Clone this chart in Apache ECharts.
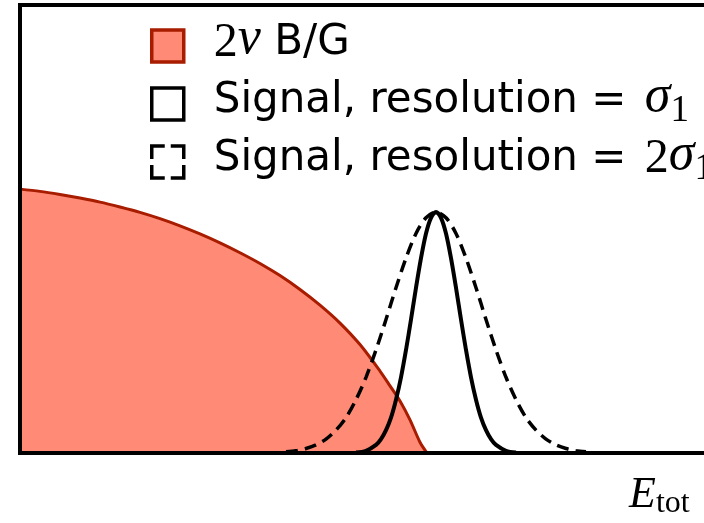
<!DOCTYPE html>
<html>
<head>
<meta charset="utf-8">
<script src="https://cdn.jsdelivr.net/npm/echarts@6/dist/echarts.min.js"></script>
<style>html,body{margin:0;padding:0;background:#fff}#c{width:704px;height:523px}</style>
</head>
<body>
<div id="c"></div>
<script>
// 2nu double-beta background spectrum (relative units)
const bgX = [0, 2, 4, 6, 8, 10, 12, 14, 16, 18, 20, 22, 24, 26, 28, 30, 32, 34, 36, 37, 38, 39, 40, 40.7];
const bgY = [58.9, 58.4, 57.7, 56.9, 56.0, 54.9, 53.7, 52.3, 50.7, 48.9, 46.9, 44.7, 42.3, 39.6, 36.5, 33.0, 29.0, 24.2, 18.3, 15.0, 11.6, 7.4, 2.4, 0];
// Signal peak, resolution sigma1
const sigX = [33.6, 34.6, 35.6, 36.1, 36.6, 37.1, 37.6, 38.1, 38.6, 39.1, 39.6, 40.1, 40.6, 41.1, 41.6, 42.1, 42.6, 43.1, 43.6, 44.1, 44.6, 45.1, 45.6, 46.1, 46.6, 47.1, 47.6, 48.6, 49.6];
const sigY = [0.1, 0.5, 1.8, 3.1, 5.1, 7.9, 11.9, 16.9, 23.0, 29.8, 36.9, 43.5, 49.0, 52.5, 53.8, 52.5, 49.0, 43.5, 36.9, 29.8, 23.0, 16.9, 11.9, 7.9, 5.1, 3.1, 1.8, 0.5, 0.1];
// Signal peak, resolution 2*sigma1
const wideX = [26.6, 27.6, 28.6, 29.6, 30.6, 31.6, 32.6, 33.6, 34.6, 35.6, 36.6, 37.6, 38.6, 39.6, 40.6, 41.6, 42.6, 43.6, 44.6, 45.6, 46.6, 47.6, 48.6, 49.6, 50.6, 51.6, 52.6, 53.6, 54.6, 55.6, 56.6];
const wideY = [0.3, 0.5, 1.0, 1.8, 3.1, 5.1, 7.9, 11.9, 16.9, 23.0, 29.8, 36.9, 43.5, 49.0, 52.5, 53.8, 52.5, 49.0, 43.5, 36.9, 29.8, 23.0, 16.9, 11.9, 7.9, 5.1, 3.1, 1.8, 1.0, 0.5, 0.3];

const seriesNames = ['bg', 'sig1', 'sig2'];
const legendLabels = {
  bg: '{n|2}{gi|ν}{t| B/G}{sub| }',
  sig1: '{t|Signal, resolution = }{gi|σ}{sub|1}',
  sig2: '{t|Signal, resolution = }{n|2}{gi|σ}{sub|1}'
};
const xName = '{E|E}{s|tot}';

const zip = (xs, ys) => xs.map((x, i) => [x, ys[i]]);

const chart = echarts.init(document.getElementById('c'), null, {renderer: 'canvas'});
const serif = 'Liberation Serif';
const sans = 'DejaVu Sans';
chart.setOption({
  animation: false,
  backgroundColor: '#fff',
  grid: {left: 20, top: 5, bottom: 70, width: 724, outerBoundsMode: 'none', containLabel: false,
         show: true, borderWidth: 4, borderColor: '#000', backgroundColor: '#fff'},
  xAxis: {
    type: 'value', min: 0, max: 72.4, z: 10,
    axisLine: {show: true, lineStyle: {color: '#000', width: 4}},
    axisTick: {show: false}, axisLabel: {show: false}, splitLine: {show: false},
    name: xName, nameLocation: 'end', nameGap: -115,
    nameTextStyle: {
      align: 'left', verticalAlign: 'top', padding: [20, 0, 0, 0], color: '#000',
      rich: {
        E: {fontFamily: serif, fontStyle: 'italic', fontSize: 44, lineHeight: 44, color: '#000'},
        s: {fontFamily: serif, fontSize: 32, lineHeight: 22, padding: [18, 0, 0, 0], color: '#000'}
      }
    }
  },
  yAxis: {
    type: 'value', min: 0, max: 100, z: 10,
    axisLine: {show: true, lineStyle: {color: '#000', width: 4}},
    axisTick: {show: false}, axisLabel: {show: false}, splitLine: {show: false}
  },
  legend: {
    orient: 'vertical', left: 150, top: 13, padding: 0,
    itemWidth: 32, itemHeight: 32, itemGap: -2,
    selectedMode: false,
    data: [
      {name: 'bg', icon: 'rect', itemStyle: {color: '#FF8A75', borderColor: '#A81C00', borderWidth: 3.5}},
      {name: 'sig1', icon: 'rect', itemStyle: {color: '#fff', borderColor: '#000', borderWidth: 3.5}},
      {name: 'sig2', icon: 'rect', itemStyle: {color: '#fff', borderColor: '#000', borderWidth: 3.5, borderType: [26, 6], borderDashOffset: 13}}
    ],
    formatter: name => legendLabels[name],
    textStyle: {
      color: '#000', padding: [0, 0, 6, 25],
      rich: {
        t: {fontFamily: sans, fontSize: 42, lineHeight: 40, padding: [0, 5, 0, 0], color: '#000'},
        n: {fontFamily: serif, fontSize: 48, lineHeight: 40, color: '#000'},
        gi: {fontFamily: serif, fontStyle: 'italic', fontSize: 52, lineHeight: 40, padding: [0, 0, 8, 0], color: '#000'},
        sub: {fontFamily: serif, fontSize: 37, lineHeight: 20, padding: [20, 0, 0, 0], color: '#000'}
      }
    }
  },
  series: [
    {
      name: seriesNames[0], type: 'line', data: zip(bgX, bgY), smooth: 0.3, symbol: 'none',
      lineStyle: {color: '#A81C00', width: 3}, itemStyle: {color: '#FF8A75'},
      areaStyle: {color: '#FF8A75', opacity: 1}, z: 2
    },
    {
      name: seriesNames[1], type: 'line', data: zip(sigX, sigY), smooth: 0.3, symbol: 'none',
      lineStyle: {color: '#000', width: 4}, itemStyle: {color: '#000'}, z: 4
    },
    {
      name: seriesNames[2], type: 'line', data: zip(wideX, wideY), smooth: 0.3, symbol: 'none',
      lineStyle: {color: '#000', width: 3.5, type: [12, 7]}, itemStyle: {color: '#000'}, z: 3
    }
  ]
});
</script>
</body>
</html>
